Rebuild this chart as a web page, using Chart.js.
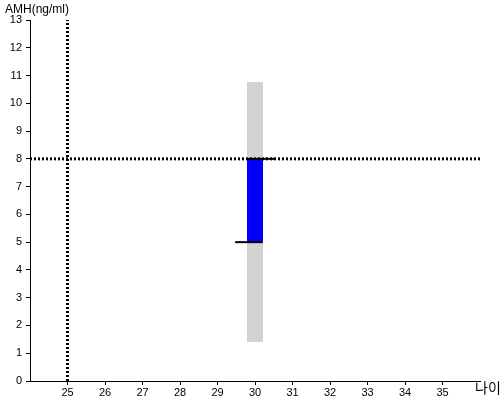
<!DOCTYPE html>
<html>
<head>
<meta charset="utf-8">
<script src="https://cdn.jsdelivr.net/npm/chart.js@4"></script>
<style>
  body { margin: 0; background: #fff; }
  #wrap { width: 500px; height: 400px; }
</style>
</head>
<body>
<div id="wrap"><canvas id="amhChart" width="500" height="400"></canvas></div>
<script>
// values
const ageTicks = [25, 26, 27, 28, 29, 30, 31, 32, 33, 34, 35];
const amhTicks = [0, 1, 2, 3, 4, 5, 6, 7, 8, 9, 10, 11, 12, 13];
const ageRange = [24, 36];
const amhRange = [0, 13];
const barAge = 30;
const normalRange = [1.4, 10.77];   // gray band
const myRange = [5, 8];             // blue bar
const lowMark = [29.47, 30.2];      // black line at 5
const highMark = [29.76, 30.56];    // black line at 8
const refAge = 25;
const refAmh = 8;

const seg = (x0, y0, x1, y1) => [{ x: x0, y: y0 }, { x: x1, y: y1 }];

// listed bottom-to-top; `order` makes later ones paint over earlier ones
const datasets = [
  { data: seg(barAge, normalRange[0], barAge, normalRange[1]), borderColor: '#d3d3d3', borderWidth: 16 },
  { data: seg(barAge, myRange[0], barAge, myRange[1]), borderColor: '#0000ff', borderWidth: 16 },
  { data: seg(refAge, amhRange[0], refAge, amhRange[1]), borderColor: '#000', borderWidth: 3, borderDash: [2, 2] },
  { data: seg(ageRange[0], refAmh, ageRange[1], refAmh), borderColor: '#000', borderWidth: 3, borderDash: [2, 2] },
  { data: seg(lowMark[0], myRange[0], lowMark[1], myRange[0]), borderColor: '#000', borderWidth: 2 },
  { data: seg(highMark[0], myRange[1], highMark[1], myRange[1]), borderColor: '#000', borderWidth: 2 }
].map((d, i, all) => Object.assign({ pointRadius: 0, borderCapStyle: 'butt', fill: false, order: all.length - i }, d));

const axisText = {
  id: 'axisText',
  afterDraw(chart) {
    const ctx = chart.ctx;
    ctx.save();
    ctx.fillStyle = '#000';
    ctx.font = '12px "Liberation Sans", Arial, sans-serif';
    ctx.textBaseline = 'top';
    ctx.textAlign = 'left';
    ctx.fillText('AMH(ng/ml)', 5, 4);
    ctx.font = '14px "Noto Sans CJK KR", sans-serif';
    ctx.fillText('나이', 475, 381);
    ctx.restore();
  }
};

const tickFont = { family: '"Liberation Sans", Arial, sans-serif', size: 11 };

new Chart(document.getElementById('amhChart'), {
  type: 'line',
  data: { datasets },
  options: {
    responsive: false,
    animation: false,
    layout: { padding: { top: 20, right: 20, left: 0, bottom: 0 } },
    plugins: { legend: { display: false }, tooltip: { enabled: false } },
    scales: {
      x: {
        type: 'linear',
        min: ageRange[0],
        max: ageRange[1],
        afterBuildTicks: s => { s.ticks = ageTicks.map(v => ({ value: v })); },
        afterFit: s => { s.height = 19; },
        grid: { drawOnChartArea: false, tickLength: 4, color: '#000' },
        border: { color: '#000', width: 1 },
        ticks: { color: '#000', font: tickFont, padding: 1, maxRotation: 0 }
      },
      y: {
        type: 'linear',
        min: amhRange[0],
        max: amhRange[1],
        afterBuildTicks: s => { s.ticks = amhTicks.map(v => ({ value: v })); },
        afterFit: s => { s.width = 30; },
        grid: { drawOnChartArea: false, tickLength: 4, color: '#000' },
        border: { color: '#000', width: 1 },
        ticks: { color: '#000', font: tickFont, padding: 4 }
      }
    }
  },
  plugins: [axisText]
});
</script>
</body>
</html>
